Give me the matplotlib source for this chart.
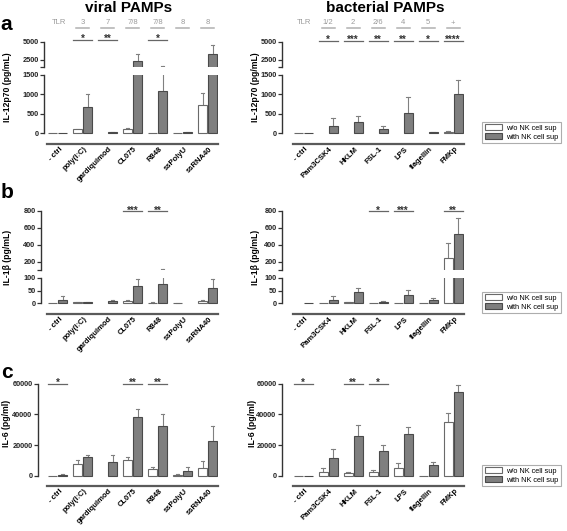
import matplotlib
matplotlib.use('Agg')
import matplotlib.pyplot as plt
import matplotlib.transforms as mtransforms
import numpy as np
from matplotlib.patches import Patch

plt.rcParams['font.family'] = ['Liberation Sans', 'DejaVu Sans']
plt.rcParams['font.weight'] = 'bold'

W, H = 567, 531
nan = np.nan

viral_cats = ['- ctrl', 'poly(I:C)', 'gardiquimod', 'CL075', 'R848', 'ssPolyU', 'ssRNA40']
bact_cats = ['- ctrl', 'Pam3CSK4', 'HKLM', 'FSL-1', 'LPS', 'flagellin', 'FMKp']
viral_tlr = ['', '3', '7', '7/8', '7/8', '8', '8']
bact_tlr = ['', '1/2', '2', '2/6', '4', '5', '+']

# IL-12p70 (pg/mL)
il12_viral_wo = [3, 95, nan, 110, 5, 5, 724]
il12_viral_wo_err = [0, 10, 0, 25, 0, 0, 320]
il12_viral_with = [5, 680, 20, 2380, 1095, 15, 3320]
il12_viral_with_err = [0, 320, 10, 900, 560, 5, 1260]
il12_bact_wo = [2, nan, nan, nan, nan, nan, 30]
il12_bact_wo_err = [0, 0, 0, 0, 0, 0, 20]
il12_bact_with = [5, 190, 290, 100, 515, 20, 1000]
il12_bact_with_err = [0, 200, 160, 90, 415, 10, 370]

# IL-1beta (pg/mL)
il1b_viral_wo = [2, 4, nan, 8, 3, 2, 10]
il1b_viral_wo_err = [0, 1, 0, 4, 1, 1, 5]
il1b_viral_with = [15, 4, 10, 70, 78, nan, 60]
il1b_viral_with_err = [15, 2, 5, 25, 34, 0, 37]
il1b_bact_wo = [nan, 2, 5, 2, 3, 1, 240]
il1b_bact_wo_err = [0, 0, 1, 0, 0, 0, 180]
il1b_bact_with = [1, 15, 45, 6, 33, 12, 526]
il1b_bact_with_err = [0, 12, 15, 4, 19, 8, 194]

# IL-6 (pg/ml)
il6_viral_wo = [200, 7600, nan, 10100, 4300, 900, 5200]
il6_viral_wo_err = [0, 2700, 0, 2400, 1700, 200, 4300]
il6_viral_with = [700, 12100, 8900, 38000, 32300, 3400, 23000]
il6_viral_with_err = [300, 1700, 4700, 5200, 7700, 2200, 9300]
il6_bact_wo = [200, 2800, 1700, 2400, 5400, 300, 35100]
il6_bact_wo_err = [0, 2600, 600, 1700, 2800, 0, 5600]
il6_bact_with = [300, 11900, 25800, 16400, 27300, 7100, 54500]
il6_bact_with_err = [0, 5800, 7300, 3900, 4700, 2000, 4300]

sig_il12_viral = {1: '*', 2: '**', 4: '*'}
sig_il12_bact = {1: '*', 2: '***', 3: '**', 4: '**', 5: '*', 6: '****'}
sig_il1b_viral = {3: '***', 4: '**'}
sig_il1b_bact = {3: '*', 4: '***', 6: '**'}
sig_il6_viral = {0: '*', 3: '**', 4: '**'}
sig_il6_bact = {0: '*', 2: '**', 3: '*'}

GRAY = '#7f7f7f'
DARK = '#4a4a4a'
ERR = '#808080'
UNIT = 25.0  # px per category

fig = plt.figure(figsize=(W / 100, H / 100), dpi=100)


def fy(y):
    return 1 - y / H


def px_axes(x0, x1, ytop, ybot):
    return fig.add_axes([x0 / W, fy(ybot), (x1 - x0) / W, (ybot - ytop) / H])


def draw_panel(segs, spine_x, c0, x_end, line_x0, line_y, cats, wo, wo_err, wi, wi_err,
               sig, sig_y, tlr=None):
    xs = np.arange(len(cats))
    axes = []
    for k, (ytop, ybot, vlo, vhi, ticks, labels) in enumerate(segs):
        last = k == len(segs) - 1
        pad = 1.5 if last else 0
        ax = px_axes(spine_x, x_end, ytop, ybot + pad)
        scale = (vhi - vlo) / (ybot - ytop)
        ymin = vlo - pad * scale
        ax.set_ylim(ymin, vhi)
        ax.set_xlim((spine_x - c0) / UNIT, (x_end - c0) / UNIT)
        for off, vals, errs, fc, ec in [(-0.2, wo, wo_err, 'white', '#6a6a6a'),
                                        (0.2, wi, wi_err, GRAY, DARK)]:
            vals = np.array(vals, dtype=float)
            errs = np.array(errs, dtype=float)
            m = ~np.isnan(vals)
            ax.bar(xs[m] + off, vals[m], width=0.36, color=fc, edgecolor=ec,
                   linewidth=0.8, zorder=2)
            for x, v, e in zip(xs[m] + off, vals[m], errs[m]):
                if e <= 0:
                    continue
                top = v + e
                y0, y1 = max(v, ymin), min(top, vhi)
                if y1 > y0:
                    ax.plot([x, x], [y0, y1], color=ERR, lw=0.8, zorder=1.5)
                if ymin <= top <= vhi:
                    ax.plot([x - 0.07, x + 0.07], [top, top], color=ERR, lw=0.8,
                            zorder=1.5)
        for s in ['top', 'right']:
            ax.spines[s].set_visible(False)
        ax.spines['left'].set_bounds(vlo, vhi)
        ax.spines['left'].set_color('#333333')
        ax.spines['left'].set_linewidth(1.0)
        ax.set_yticks(ticks)
        ax.set_yticklabels(labels)
        ax.tick_params(axis='y', length=3, width=0.9, labelsize=5.3, pad=1,
                       color='#333333', labelcolor='#222222')
        ax.set_xticks([])
        if last:
            out = (line_y - (ybot + pad)) * 0.72
            ax.spines['bottom'].set_position(('outward', out))
            ax.spines['bottom'].set_bounds((line_x0 - c0) / UNIT, (x_end - c0) / UNIT)
            ax.spines['bottom'].set_linewidth(1.6)
            ax.spines['bottom'].set_color('#5a5a5a')
            tr = mtransforms.blended_transform_factory(ax.transData, fig.transFigure)
            for i, c in enumerate(cats):
                ax.text(i + 0.15, fy(line_y + 4), c, rotation=45, ha='right', va='center',
                        rotation_mode='anchor', fontsize=5.5, transform=tr, clip_on=False)
        else:
            ax.spines['bottom'].set_visible(False)
        axes.append(ax)

    top = axes[0]
    tr = mtransforms.blended_transform_factory(top.transData, fig.transFigure)
    for i, s in sig.items():
        top.plot([i - 0.38, i + 0.38], [fy(sig_y)] * 2, color='#666666', lw=0.9,
                 transform=tr, clip_on=False)
        top.text(i, fy(sig_y + 2.6), s, ha='center', va='baseline', fontsize=7,
                 color='#333333', transform=tr, clip_on=False)
    if tlr is not None:
        top.text(0.05, fy(23), 'TLR', ha='center', va='center', fontsize=5.5,
                 color='#9a9a9a', fontweight='normal', transform=tr, clip_on=False)
        for i, t in enumerate(tlr):
            if not t:
                continue
            top.text(i, fy(23), t, ha='center', va='center', fontsize=5.5,
                     color='#9a9a9a', fontweight='normal', transform=tr, clip_on=False)
            top.plot([i - 0.26, i + 0.26], [fy(27.5)] * 2, color='#b0b0b0', lw=1.1,
                     transform=tr, clip_on=False)
    return axes


seg_a = [(42, 67, 1500, 5000, [1500, 2500, 5000], ['', '2500', '5000']),
         (75, 133, 0, 1500, [0, 500, 1000, 1500], ['0', '500', '1000', '1500'])]
seg_b = [(211, 270, 100, 800, [100, 200, 400, 600, 800], ['', '200', '400', '600', '800']),
         (278, 303.3, 0, 100, [0, 50, 100], ['0', '50', '100'])]
seg_c = [(383.5, 476, 0, 60000, [0, 20000, 40000, 60000], ['0', '20000', '40000', '60000'])]

# row a
draw_panel(seg_a, 44, 57.5, 218, 47, 144, viral_cats, il12_viral_wo, il12_viral_wo_err,
           il12_viral_with, il12_viral_with_err, sig_il12_viral, 39.5, viral_tlr)
draw_panel(seg_a, 282, 303, 464, 293, 144, bact_cats, il12_bact_wo, il12_bact_wo_err,
           il12_bact_with, il12_bact_with_err, sig_il12_bact, 40.5, bact_tlr)
# row b
draw_panel(seg_b, 41, 57.5, 218, 47, 314, viral_cats, il1b_viral_wo, il1b_viral_wo_err,
           il1b_viral_with, il1b_viral_with_err, sig_il1b_viral, 211)
draw_panel(seg_b, 282, 303, 464, 293, 314, bact_cats, il1b_bact_wo, il1b_bact_wo_err,
           il1b_bact_with, il1b_bact_with_err, sig_il1b_bact, 211)
# row c
draw_panel(seg_c, 38, 57.5, 218, 47, 486, viral_cats, il6_viral_wo, il6_viral_wo_err,
           il6_viral_with, il6_viral_with_err, sig_il6_viral, 383.5)
draw_panel(seg_c, 282, 303, 464, 293, 486, bact_cats, il6_bact_wo, il6_bact_wo_err,
           il6_bact_with, il6_bact_with_err, sig_il6_bact, 383.5)

# y labels
for x, xc in ((7.5, 6.5), (255, 252.5)):
    fig.text(x / W, fy(87), 'IL-12p70 (pg/mL)', rotation=90, ha='center', va='center', fontsize=6.2)
    fig.text(x / W, fy(257), 'IL-1\u03b2 (pg/mL)', rotation=90, ha='center', va='center', fontsize=6.2)
    fig.text(xc / W, fy(423), 'IL-6 (pg/ml)', rotation=90, ha='center', va='center', fontsize=6.2)

fig.text(129 / W, fy(8), 'viral PAMPs', ha='center', va='center', fontsize=11)
fig.text(385 / W, fy(8), 'bacterial PAMPs', ha='center', va='center', fontsize=11)
fig.text(6 / W, fy(24), 'a', ha='center', va='center', fontsize=15)
fig.text(7 / W, fy(193), 'b', ha='center', va='center', fontsize=15)
fig.text(7 / W, fy(373), 'c', ha='center', va='center', fontsize=15)

handles = [Patch(facecolor='white', edgecolor='#6a6a6a', linewidth=0.8),
           Patch(facecolor=GRAY, edgecolor=DARK, linewidth=0.8)]
for yc in (132.5, 302.5, 475.5):
    leg = fig.legend(handles, ['w/o NK cell sup', 'with NK cell sup'], loc='center left',
                     bbox_to_anchor=(482 / W, fy(yc)), prop={'size': 5.3, 'weight': 'normal'},
                     frameon=True, fancybox=False, edgecolor='#999999', handlelength=2.3,
                     handleheight=0.7, borderpad=0.35, labelspacing=0.25, handletextpad=0.6,
                     borderaxespad=0)
    leg.get_frame().set_linewidth(0.8)

fig.savefig('out.png', dpi=100)
